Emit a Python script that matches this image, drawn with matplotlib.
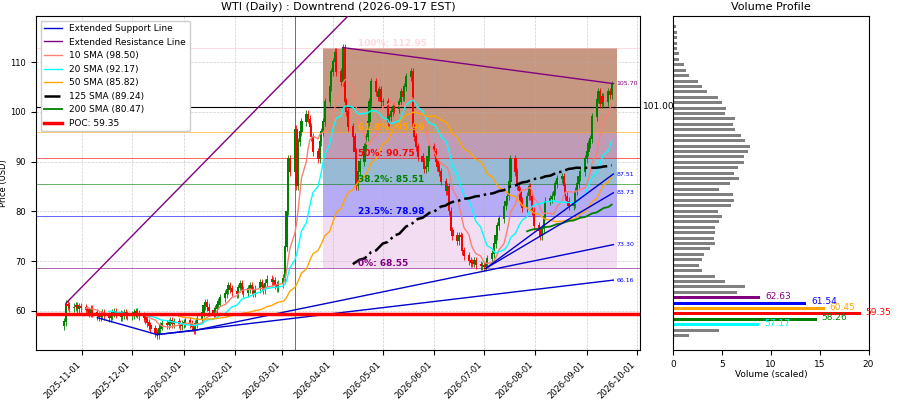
import numpy as np
import pandas as pd
import matplotlib
matplotlib.use("Agg")
import matplotlib.pyplot as plt
import matplotlib.dates as mdates

# daily closes
closes_oct = [57.8, 61.3, 61.0, 60.5, 60.7, 61.0, 60.4, 60.8, 60.6]
closes_nov = [60.2, 60.0, 59.6, 60.3, 59.5, 59.0, 58.7, 59.2, 59.6, 58.9, 58.6, 59.0, 59.5, 59.8,
              59.3, 58.8, 59.1, 59.6, 59.2, 58.9]
closes_dec = [59.2, 59.6, 59.8, 59.4, 59.0, 58.6, 58.2, 57.6, 57.0, 56.3, 55.6, 55.2, 56.4, 57.0,
              57.4, 57.1, 57.5, 57.9, 57.4, 57.7, 57.3, 57.0, 57.4]
closes_jan = [57.6, 57.9, 57.3, 56.8, 56.2, 57.4, 58.3, 59.5, 61.0, 61.6, 60.7, 60.0, 59.6, 60.4,
              61.2, 61.8, 62.6, 63.4, 64.2, 65.0, 64.4, 63.8]
closes_feb = [63.4, 64.6, 65.4, 64.2, 63.5, 64.4, 65.0, 64.1, 63.6, 64.3, 65.6, 64.8, 64.2, 65.5,
              66.3, 65.8, 66.0, 65.2, 64.6, 65.4]
closes_mar = [66.5, 72.8, 80.0, 90.5, 88.0, 96.5, 85.0, 94.0, 96.0, 98.0, 99.5, 98.5, 97.0, 95.0,
              92.0, 90.6, 94.0, 96.0, 98.0, 102.0, 105.0, 108.0]
closes_apr = [110.0, 112.0, 108.0, 106.0, 112.9, 102.0, 100.0, 97.0, 95.0, 92.0, 85.0, 88.0, 90.0,
              93.0, 95.0, 98.0, 102.0, 106.0, 104.0, 103.0, 104.5, 102.0]
closes_may = [102.0, 98.0, 99.0, 100.0, 101.0, 100.5, 102.0, 104.0, 103.0, 105.0, 107.0, 108.0,
              97.0, 95.0, 93.0, 91.0, 90.0, 88.5, 89.0, 91.0, 93.0]
closes_jun = [92.0, 90.0, 89.0, 88.0, 86.0, 84.0, 85.0, 80.0, 76.0, 75.0, 74.0, 75.0, 74.8, 72.0,
              71.0, 70.0, 69.7, 69.5, 70.0, 69.2, 69.0, 69.0]
closes_jul = [68.8, 69.5, 70.5, 71.5, 73.5, 75.0, 77.0, 78.5, 81.0, 82.0, 83.0, 86.0, 90.6, 88.0,
              85.0, 84.0, 82.0, 80.7, 83.0, 85.0, 83.0, 80.0]
closes_aug = [77.0, 76.0, 75.0, 76.5, 79.0, 82.0, 82.5, 83.0, 84.0, 85.5, 86.5, 87.0, 85.0, 83.0,
              82.0, 81.0, 81.5, 84.0, 85.5, 87.0, 88.0]
closes_sep = [90.6, 92.0, 93.5, 94.6, 99.0, 102.5, 104.0, 101.5, 103.0, 102.0, 104.0, 103.5, 105.5]

closes = np.array(closes_oct + closes_nov + closes_dec + closes_jan + closes_feb + closes_mar +
                  closes_apr + closes_may + closes_jun + closes_jul + closes_aug + closes_sep)
dates = pd.bdate_range("2025-10-21", periods=len(closes))

fib_levels = [68.55, 78.98, 85.51, 90.75, 95.99, 112.95]
fib_names = ["0%", "23.5%", "38.2%", "50%", "61.8%", "100%"]
fib_text_colors = ["purple", "blue", "green", "red", "orange", "pink"]
fib_fill = ["plum", "mediumslateblue", "steelblue", "#8b4a7a", "sienna"]
fib_alpha = [0.35, 0.55, 0.55, 0.55, 0.6]

# volume profile (scaled), bins from bottom to top
vp_prices = 54.99 + 1.09 * np.arange(59)
vp_volume = [1.6, 4.7, 8.8, 14.7, 19.2, 15.5, 13.6, 8.9, 6.5, 7.4, 5.3, 4.3, 3.0, 2.6, 3.0, 3.2,
             3.8, 4.3, 4.2, 4.3, 4.3, 4.7, 5.0, 4.6, 5.9, 6.2, 6.1, 4.7, 5.8, 6.7, 6.2, 6.6, 7.3,
             7.3, 7.7, 7.9, 7.4, 6.9, 6.3, 6.1, 6.3, 5.3, 5.4, 5.0, 4.6, 3.5, 2.9, 2.5, 1.6, 1.3,
             1.1, 0.6, 0.6, 0.4, 0.4, 0.4, 0.4, 0.3, 0.1]
vp_marks = {2: ("57.17", "cyan"), 3: ("58.26", "green"), 4: ("59.35", "red"),
            5: ("60.45", "orange"), 6: ("61.54", "blue"), 7: ("62.63", "purple")}

# trend lines: (start date, start price, end date, end price)
support_lines = [("2025-11-10", 58.6, "2025-12-16", 55.2),
                 ("2025-12-16", 55.2, "2026-01-07", 56.0),
                 ("2025-12-16", 55.2, "2026-09-17", 66.16),
                 ("2026-01-07", 56.0, "2026-09-17", 73.30),
                 ("2026-07-02", 68.5, "2026-09-17", 83.73),
                 ("2026-07-02", 68.5, "2026-09-17", 87.51)]
resist_lines = [("2025-10-22", 61.5, "2026-04-18", 122.0),
                ("2026-04-07", 112.95, "2026-09-17", 105.70)]
end_labels = [(105.70, "purple"), (87.51, "blue"), (83.73, "blue"), (73.30, "blue"), (66.16, "blue")]

fig = plt.figure(figsize=(9, 4), dpi=100)
ax = fig.add_axes([0.040, 0.125, 0.671, 0.835])
axv = fig.add_axes([0.748, 0.125, 0.217, 0.835])

x = mdates.date2num(dates)
opens = np.concatenate([[closes[0] - 0.8], closes[:-1]])
up = closes >= opens
col = np.where(up, "green", "red")
highs = np.maximum(opens, closes) + 0.8
lows = np.minimum(opens, closes) - 0.8
ax.vlines(x, lows, highs, colors=col, lw=0.6, zorder=3)
ax.bar(x, np.abs(closes - opens) + 0.15, bottom=np.minimum(opens, closes), width=1.3,
       color=col, zorder=4)

s = pd.Series(closes, index=dates)
ax.plot(dates, s.rolling(10).mean(), color="salmon", lw=1, label="10 SMA (98.50)", zorder=5)
ax.plot(dates, s.rolling(20).mean(), color="cyan", lw=1, label="20 SMA (92.17)", zorder=5)
ax.plot(dates, s.rolling(50).mean(), color="orange", lw=1, label="50 SMA (85.82)", zorder=5)
ax.plot(dates, s.rolling(125).mean(), color="black", lw=1.8, ls="-.", label="125 SMA (89.24)", zorder=5)
ax.plot(dates, s.rolling(200).mean(), color="green", lw=1.3, label="200 SMA (80.47)", zorder=5)

for i, (d0, p0, d1, p1) in enumerate(support_lines):
    ax.plot(pd.to_datetime([d0, d1]), [p0, p1], color="mediumblue", lw=1,
            label="Extended Support Line" if i == 0 else None, zorder=6)
for i, (d0, p0, d1, p1) in enumerate(resist_lines):
    ax.plot(pd.to_datetime([d0, d1]), [p0, p1], color="purple", lw=1,
            label="Extended Resistance Line" if i == 0 else None, zorder=6)
for p, c in end_labels:
    ax.text(pd.Timestamp("2026-09-19"), p, f"{p:.2f}", color=c, fontsize=4.5, va="center")

# fibonacci boxes
fx0 = mdates.date2num(pd.Timestamp("2026-03-26"))
fx1 = mdates.date2num(pd.Timestamp("2026-09-19"))
for i in range(5):
    ax.fill_between([fx0, fx1], fib_levels[i], fib_levels[i + 1], color=fib_fill[i],
                    alpha=fib_alpha[i], lw=0, zorder=1)
for lv, nm, c in zip(fib_levels, fib_names, fib_text_colors):
    ax.axhline(lv, color=c, lw=0.7, alpha=0.6, zorder=2)
    ax.text(pd.Timestamp("2026-04-16"), lv, f"{nm}: {lv:.2f}", color=c, fontsize=6.5,
            fontweight="bold", va="bottom", alpha=0.6 if c == "pink" else 1, zorder=7)

ax.axhline(101.0, color="black", lw=0.8, zorder=2)
ax.text(1.005, 101.0, "101.00", transform=ax.get_yaxis_transform(), fontsize=6.5, va="center")
ax.axvline(pd.Timestamp("2026-03-09"), color="red", lw=0.7, alpha=0.8, zorder=2)
ax.axhline(59.35, color="red", lw=2.5, label="POC: 59.35", zorder=6)

ax.set_title("WTI (Daily) : Downtrend (2026-09-17 EST)", fontsize=8, pad=4)
ax.set_ylabel("Price (USD)", fontsize=6, labelpad=2)
ax.set_xlim(pd.Timestamp("2025-10-04"), pd.Timestamp("2026-10-03"))
ax.set_ylim(52.1, 119.3)
ax.xaxis.set_major_locator(mdates.MonthLocator())
ax.xaxis.set_major_formatter(mdates.DateFormatter("%Y-%m-%d"))
ax.tick_params(labelsize=6)
plt.setp(ax.get_xticklabels(), rotation=45, ha="right")
ax.grid(True, ls="--", lw=0.5, alpha=0.6)

h, l = ax.get_legend_handles_labels()
order = ["Extended Support Line", "Extended Resistance Line", "10 SMA (98.50)", "20 SMA (92.17)",
         "50 SMA (85.82)", "125 SMA (89.24)", "200 SMA (80.47)", "POC: 59.35"]
hd = dict(zip(l, h))
ax.legend([hd[k] for k in order], order, loc="upper left", fontsize=6.5, framealpha=1)

colors_vp = ["gray"] * len(vp_prices)
for k, (t, c) in vp_marks.items():
    colors_vp[k] = c
axv.barh(vp_prices, vp_volume, height=0.6, color=colors_vp)
for k, (t, c) in vp_marks.items():
    axv.text(vp_volume[k] + 0.5, vp_prices[k] + 0.3, t, color=c, fontsize=6.5, va="center")
axv.set_ylim(52.1, 119.3)
axv.set_xlim(0, 20)
axv.set_yticks([])
axv.set_title("Volume Profile", fontsize=8, pad=4)
axv.set_xlabel("Volume (scaled)", fontsize=6.5, labelpad=1)
axv.tick_params(labelsize=6.5)

fig.savefig("out.png")
